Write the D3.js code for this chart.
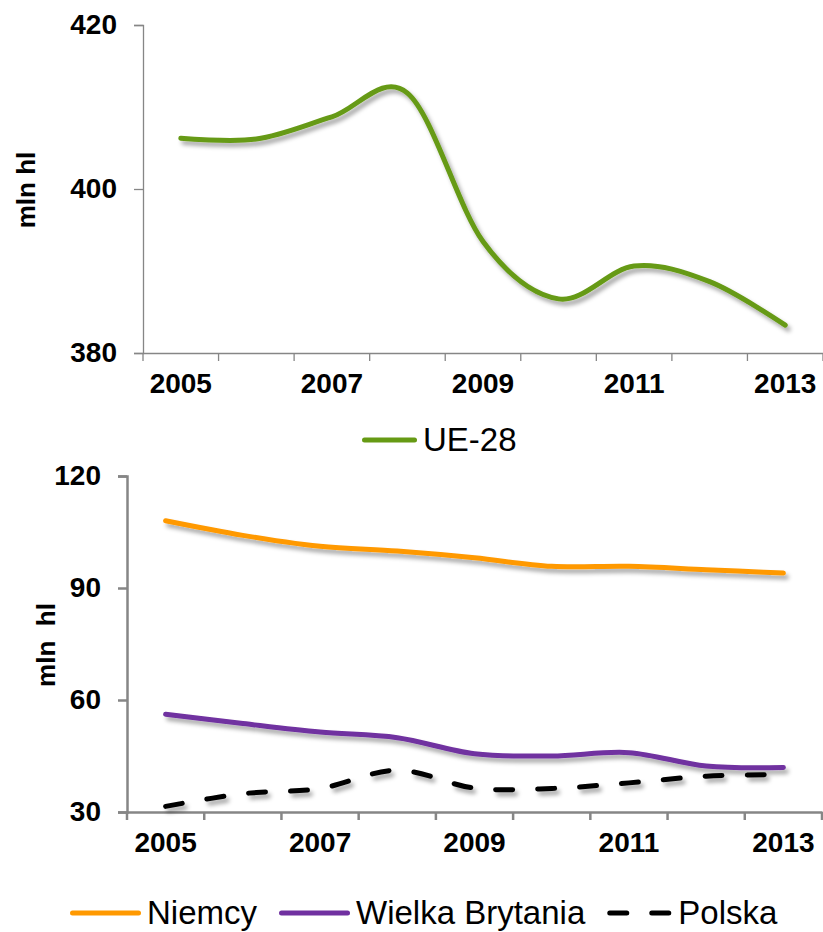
<html>
<head>
<script src="https://d3js.org/d3.v7.min.js"></script>
<style>
  body { margin: 0; background: #fff; }
  svg { font-family: "Liberation Sans", Arial, sans-serif; }
  .tick-label { font-size: 28px; font-weight: bold; fill: #000; }
  .axis-title { font-size: 26px; font-weight: bold; fill: #000; }
  .legend-text { font-size: 33px; fill: #000; }
  .line { fill: none; stroke-width: 5; stroke-linecap: round; }
</style>
</head>
<body>
<div id="chart"></div>
<script>
// data
var years = [2005, 2006, 2007, 2008, 2009, 2010, 2011, 2012, 2013];
var yearLabels = [2005, 2007, 2009, 2011, 2013];

var ue28 = [406.2, 406.1, 408.8, 411.7, 393.6, 386.6, 390.6, 388.7, 383.4];

var niemcy = [108.0, 104.1, 101.2, 99.9, 98.1, 95.8, 95.8, 94.9, 94.0];
var wielkaBrytania = [56.2, 53.7, 51.4, 49.9, 45.6, 45.0, 45.9, 42.3, 41.9];
var polska = [31.5, 34.9, 36.3, 41.2, 36.4, 36.3, 37.8, 39.6, 40.0];

var topTicks = [380, 400, 420];
var bottomTicks = [30, 60, 90, 120];

var width = 823, height = 932;
var axisColor = "#868686";

var svg = d3.select("#chart").append("svg")
  .attr("width", width)
  .attr("height", height);

// soft shadow under the lines
var defs = svg.append("defs");
defs.append("filter")
  .attr("id", "shadow")
  .attr("x", "-10%").attr("y", "-30%")
  .attr("width", "120%").attr("height", "160%")
  .append("feDropShadow")
  .attr("dx", 3).attr("dy", 4)
  .attr("stdDeviation", 2.2)
  .attr("flood-color", "#000")
  .attr("flood-opacity", 0.35);

var curve = d3.curveCatmullRom.alpha(0);

function panel(opt) {
  var g = svg.append("g");

  var x = d3.scaleBand().domain(years).range([opt.left, opt.right]).padding(0);
  var y = d3.scaleLinear().domain(opt.domain).range([opt.bottom, opt.top]);
  var cx = d => x(d) + x.bandwidth() / 2;

  // y axis
  var yAxis = d3.axisLeft(y).tickValues(opt.yTicks).tickSize(9).tickPadding(17);
  var ya = g.append("g")
    .attr("transform", `translate(${opt.left},0)`)
    .call(yAxis);
  ya.select(".domain").attr("stroke", axisColor).attr("stroke-width", opt.axisWidth);
  ya.selectAll(".tick line").attr("stroke", axisColor).attr("stroke-width", opt.axisWidth);
  ya.selectAll(".tick text").attr("class", "tick-label").attr("fill", "#000");

  // x axis: tick marks on band edges, labels every second year
  var xa = g.append("g")
    .attr("transform", `translate(0,${opt.bottom})`)
    .call(d3.axisBottom(x).tickValues(yearLabels).tickSize(0).tickPadding(20));
  xa.select(".domain").attr("stroke", axisColor).attr("stroke-width", opt.axisWidth);
  xa.selectAll(".tick text").attr("class", "tick-label").attr("fill", "#000");

  var edges = years.map(d => x(d)).concat([opt.right]);
  g.append("g").selectAll("line")
    .data(edges).enter()
    .append("line")
    .attr("x1", d => d).attr("x2", d => d)
    .attr("y1", opt.bottom).attr("y2", opt.bottom + 8)
    .attr("stroke", axisColor)
    .attr("stroke-width", opt.axisWidth);

  // axis title
  g.append("text")
    .attr("class", "axis-title")
    .attr("transform", `translate(${opt.titleX},${opt.titleY}) rotate(-90)`)
    .attr("text-anchor", "middle")
    .style("white-space", "pre")
    .text(opt.title);

  // lines
  var line = d3.line()
    .x((d, i) => cx(years[i]))
    .y(d => y(d))
    .curve(curve);

  opt.series.forEach(function(s) {
    g.append("path")
      .attr("class", "line")
      .attr("d", line(s.values))
      .attr("stroke", s.color)
      .attr("stroke-dasharray", s.dash || null)
      .attr("filter", "url(#shadow)");
  });

  // legend
  var lx = opt.legendX;
  opt.series.forEach(function(s) {
    g.append("line")
      .attr("x1", lx + 2.5).attr("x2", lx + s.legendLen - 2.5)
      .attr("y1", opt.legendY).attr("y2", opt.legendY)
      .attr("stroke", s.color)
      .attr("stroke-width", 5)
      .attr("stroke-linecap", "round")
      .attr("stroke-dasharray", s.dash || null);
    var t = g.append("text")
      .attr("class", "legend-text")
      .attr("x", lx + s.legendLen + 6)
      .attr("y", opt.legendY + 11)
      .text(s.name);
    lx += s.legendLen + 6 + t.node().getComputedTextLength() + 22;
  });
}

panel({
  left: 143, right: 823, top: 25, bottom: 353,
  domain: [380, 420], yTicks: topTicks, axisWidth: 1.3,
  title: "mln hl", titleX: 35, titleY: 190,
  legendX: 362, legendY: 440,
  series: [
    {name: "UE-28", values: ue28, color: "#669a14", legendLen: 55}
  ]
});

panel({
  left: 127, right: 822, top: 476, bottom: 812,
  domain: [30, 120], yTicks: bottomTicks, axisWidth: 2.5,
  title: "mln  hl", titleX: 55, titleY: 645,
  legendX: 70, legendY: 913,
  series: [
    {name: "Niemcy", values: niemcy, color: "#ff9900", legendLen: 71},
    {name: "Wielka Brytania", values: wielkaBrytania, color: "#7030a0", legendLen: 71},
    {name: "Polska", values: polska, color: "#000000", dash: "17,25", legendLen: 65}
  ]
});
</script>
</body>
</html>
